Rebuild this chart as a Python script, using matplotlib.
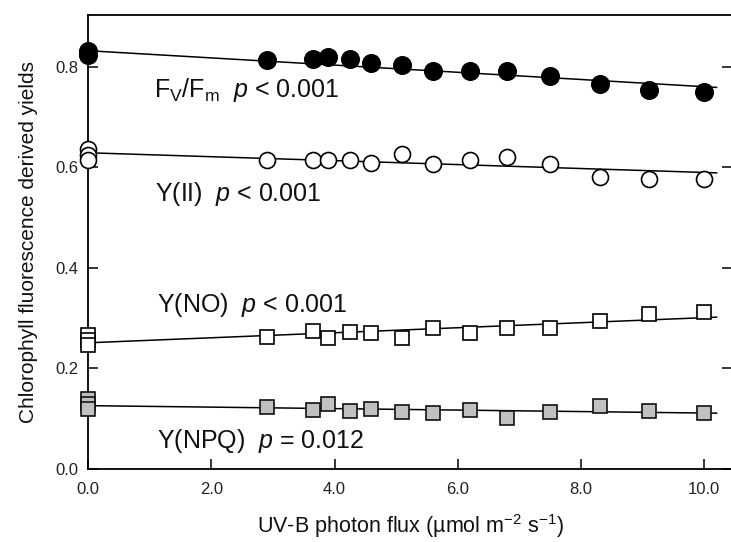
import matplotlib
matplotlib.use("Agg")
import matplotlib.pyplot as plt
import numpy as np

plt.rcParams['font.family'] = ['Liberation Sans', 'DejaVu Sans']
plt.rcParams['mathtext.fontset'] = 'custom'
plt.rcParams['mathtext.rm'] = 'Liberation Sans'
plt.rcParams['mathtext.it'] = 'Liberation Sans:italic'
plt.rcParams['mathtext.bf'] = 'Liberation Sans:bold'

# UV-B photon flux (x) -- three control replicates at 0
uvb = [0, 0, 0, 2.9, 3.65, 3.9, 4.25, 4.6, 5.1, 5.6, 6.2, 6.8, 7.5, 8.3, 9.1, 10.0]
fvfm = [0.832, 0.827, 0.824, 0.814, 0.815, 0.820, 0.815, 0.808, 0.804, 0.792,
        0.792, 0.792, 0.781, 0.766, 0.753, 0.749]
y_ii = [0.637, 0.625, 0.615, 0.615, 0.615, 0.615, 0.615, 0.609, 0.627, 0.607,
        0.615, 0.621, 0.607, 0.581, 0.577, 0.577]
y_no = [0.266, 0.256, 0.246, 0.263, 0.275, 0.261, 0.273, 0.270, 0.261, 0.281,
        0.270, 0.280, 0.281, 0.295, 0.308, 0.313]
y_npq = [0.139, 0.130, 0.119, 0.124, 0.118, 0.129, 0.116, 0.120, 0.113, 0.111,
         0.117, 0.102, 0.113, 0.125, 0.115, 0.112]

# regression lines (intercept, slope)
fit_intercept = [0.832, 0.629, 0.251, 0.126]
fit_slope = [-0.00716, -0.00392, 0.00500, -0.00147]
fit_range = [0.0, 10.2]

labels = [r'F$_\mathrm{V}$/F$_\mathrm{m}$  $p$ < 0.001',
          r'Y(II)  $p$ < 0.001',
          r'Y(NO)  $p$ < 0.001',
          r'Y(NPQ)  $p$ = 0.012']
label_x = [1.07, 1.09, 1.12, 1.12]
label_y = [0.740, 0.533, 0.312, 0.042]

xticks = [0, 2, 4, 6, 8, 10]
xticklabels = ['0.0', '2.0', '4.0', '6.0', '8.0', '10.0']
yticks = [0.0, 0.2, 0.4, 0.6, 0.8]
yticklabels = ['0.0', '0.2', '0.4', '0.6', '0.8']

fig = plt.figure(figsize=(7.31, 5.42), dpi=100)
W, H = 731, 542
left, right, bottom, top = 88, 732, 469, 15
ax = fig.add_axes([left / W, (H - bottom) / H, (right - left) / W, (bottom - top) / H])

series = [fvfm, y_ii, y_no, y_npq]
styles = [dict(marker='o', ms=12.5, mfc='black', mec='black'),
          dict(marker='o', ms=11.5, mfc='white', mec='black'),
          dict(marker='s', ms=10.5, mfc='white', mec='black'),
          dict(marker='s', ms=10.5, mfc='#c0c0c0', mec='#111111')]

fx = np.array(fit_range)
for vals, st, b0, b1 in zip(series, styles, fit_intercept, fit_slope):
    ax.plot(fx, b0 + b1 * fx, color='black', lw=1.1, zorder=3)
    ax.plot(uvb, vals, ls='none', mew=1.2, zorder=4, clip_on=False, **st)

for t, tx, ty in zip(labels, label_x, label_y):
    ax.text(tx, ty, t, fontsize=18, va='baseline', ha='left', color='#111111')

ax.set_xlim(0, 10.45)
ax.set_ylim(0, 0.903)
ax.set_xticks(xticks)
ax.set_xticklabels(xticklabels)
ax.set_yticks(yticks)
ax.set_yticklabels(yticklabels)
ax.tick_params(axis='both', direction='in', length=7, width=1.1, labelsize=12,
               labelcolor='#222222', right=True, top=False)
ax.tick_params(axis='y', pad=7)
ax.tick_params(axis='x', pad=9)
for s in ['left', 'bottom', 'top']:
    ax.spines[s].set_linewidth(1.3)
ax.spines['right'].set_visible(False)

ax.set_xlabel('UV-B photon flux (µmol m$^{-2}$ s$^{-1}$)', fontsize=15.5, labelpad=11,
              color='#111111')
ax.set_ylabel('Chlorophyll fluorescence derived yields', fontsize=15, labelpad=12,
              color='#111111')

fig.savefig('out.png', dpi=100)
